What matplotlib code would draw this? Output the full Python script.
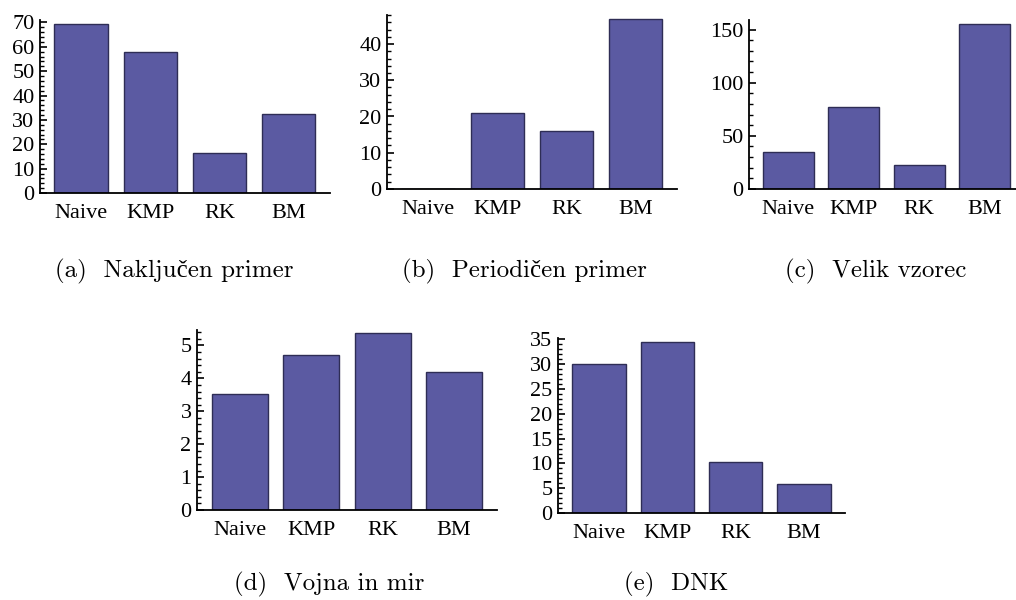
import matplotlib.pyplot as plt
from matplotlib.ticker import MultipleLocator

algorithms = ['Naive', 'KMP', 'RK', 'BM']

nakljucen = [69.2, 57.8, 16.4, 32.4]
periodicen = [0.0, 20.9, 16.0, 47.0]
velik = [35.0, 77.0, 23.0, 155.0]
vojna = [3.52, 4.71, 5.39, 4.19]
dnk = [30.0, 34.5, 10.3, 5.8]

captions = ['(a)  Naključen primer', '(b)  Periodičen primer', '(c)  Velik vzorec',
            '(d)  Vojna in mir', '(e)  DNK']

W, H = 1016, 600
fig = plt.figure(figsize=(W / 100, H / 100), dpi=100)

bar_color = '#5b5aa2'
edge_color = '#2e2d55'


def px_axes(left, right, top, bottom):
    # pixel box -> figure fraction
    return fig.add_axes([left / W, 1 - bottom / H, (right - left) / W, (bottom - top) / H])


def panel(ax, values, ymax, major, minor):
    ax.bar(range(len(values)), values, width=0.78, color=bar_color,
           edgecolor=edge_color, linewidth=1.0)
    ax.set_xlim(-0.6, 3.6)
    ax.set_ylim(0, ymax)
    ax.set_xticks(range(len(algorithms)))
    ax.set_xticklabels(algorithms, fontfamily='Liberation Serif', fontsize=16)
    ax.tick_params(axis='x', length=0, pad=8)
    ax.yaxis.set_major_locator(MultipleLocator(major))
    ax.yaxis.set_minor_locator(MultipleLocator(minor))
    ax.tick_params(axis='y', which='major', direction='in', length=5, width=1.2, pad=4)
    ax.tick_params(axis='y', which='minor', direction='in', length=3, width=1.0)
    for lab in ax.get_yticklabels():
        lab.set_fontfamily('Liberation Serif')
        lab.set_fontsize(16)
    for s in ('top', 'right'):
        ax.spines[s].set_visible(False)
    ax.spines['left'].set_linewidth(1.3)
    ax.spines['bottom'].set_linewidth(1.3)
    ax.set_facecolor('none')


ax_a = px_axes(40, 330, 20, 193)
panel(ax_a, nakljucen, 71, 10, 2)

ax_b = px_axes(387, 677, 15, 189)
panel(ax_b, periodicen, 48, 10, 2)

ax_c = px_axes(749, 1024, 20, 189)
panel(ax_c, velik, 159, 50, 10)

ax_d = px_axes(197, 497, 330, 510)
panel(ax_d, vojna, 5.47, 1, 0.2)

ax_e = px_axes(558, 845, 338, 513)
panel(ax_e, dnk, 35.3, 5, 1)

cap_pos = [(174, 271), (524, 271), (876, 271), (329, 584), (676, 584)]
for (x, y), txt in zip(cap_pos, captions):
    fig.text(x / W, 1 - y / H, txt, ha='center', va='center', fontsize=18,
             family=['cmr10', 'Liberation Serif'])

fig.savefig('out.png', dpi=100)
